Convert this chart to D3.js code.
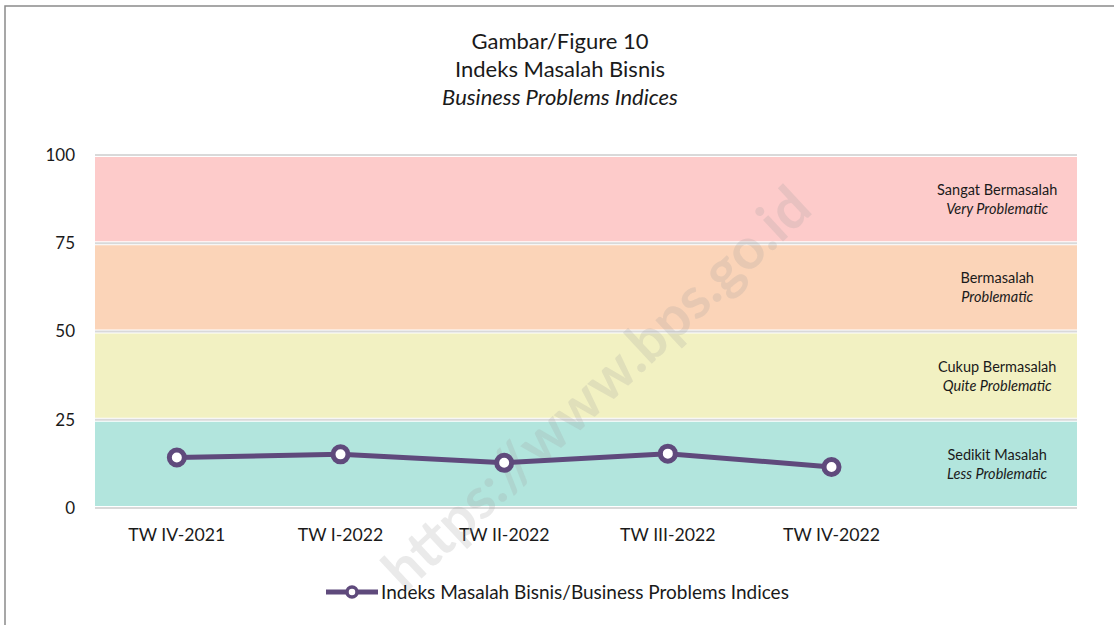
<!DOCTYPE html>
<html>
<head>
<meta charset="utf-8">
<script src="https://cdn.jsdelivr.net/npm/d3@7"></script>
<style>
  body { margin: 0; background: #fff; }
  svg text { font-family: Lato, "Open Sans", sans-serif; fill: #1a1a1a; }
</style>
</head>
<body>
<div id="chart"></div>
<script>
const quarters = ['TW IV-2021', 'TW I-2022', 'TW II-2022', 'TW III-2022', 'TW IV-2022']
const indexValues = [14.3, 15.2, 12.8, 15.4, 11.6]
const yTicks = [0, 25, 50, 75, 100]
const bandFrom = [75, 50, 25, 0]
const bandTo = [100, 75, 50, 25]
const bandColors = ['#fdcbca', '#fbd4b8', '#f2f1c2', '#b2e5dd']
const bandLabelsId = ['Sangat Bermasalah', 'Bermasalah', 'Cukup Bermasalah', 'Sedikit Masalah']
const bandLabelsEn = ['Very Problematic', 'Problematic', 'Quite Problematic', 'Less Problematic']
const titleLines = ['Gambar/Figure 10', 'Indeks Masalah Bisnis', 'Business Problems Indices']
const seriesName = 'Indeks Masalah Bisnis/Business Problems Indices'

const width = 1114
const height = 625
const margin = {top: 155, left: 95, right: 37, bottom: 117}
const lineColor = '#5f4a7c'

const svg = d3.select('#chart').append('svg')
    .attr('width', width)
    .attr('height', height)

// outer frame
svg.append('rect')
    .attr('x', 5).attr('y', 6)
    .attr('width', width + 10).attr('height', height)
    .attr('fill', 'none')
    .attr('stroke', '#8a8a8a')
    .attr('stroke-width', 1.5)

// title
svg.selectAll('.title').data(titleLines).enter()
    .append('text')
    .attr('x', 560)
    .attr('y', (d, i) => 49 + i * 28)
    .attr('text-anchor', 'middle')
    .attr('font-size', 22)
    .attr('font-style', (d, i) => i === 2 ? 'italic' : 'normal')
    .text(d => d)

// slots: five quarters plus one column holding the band labels
const slots = quarters.concat(['__labels'])
const x = d3.scaleBand()
    .domain(slots)
    .range([margin.left, width - margin.right])

const y = d3.scaleLinear()
    .domain([0, 100])
    .range([height - margin.bottom, margin.top])

// gridlines
svg.append('g').selectAll('line').data(yTicks).enter()
    .append('line')
    .attr('x1', margin.left).attr('x2', width - margin.right)
    .attr('y1', d => y(d)).attr('y2', d => y(d))
    .attr('stroke', '#d9d9d9')
    .attr('stroke-width', 2)

// coloured bands
svg.append('g').selectAll('rect').data(bandFrom).enter()
    .append('rect')
    .attr('x', margin.left)
    .attr('width', width - margin.right - margin.left)
    .attr('y', (d, i) => y(bandTo[i]) + 2)
    .attr('height', (d, i) => y(d) - y(bandTo[i]) - 4)
    .attr('fill', (d, i) => bandColors[i])

// band labels
const labelX = x('__labels') + x.bandwidth() / 2 + 2
const bl = svg.append('g').selectAll('g').data(bandFrom).enter().append('g')
bl.append('text')
    .attr('x', labelX)
    .attr('y', (d, i) => (y(d) + y(bandTo[i])) / 2 - 4)
    .attr('text-anchor', 'middle')
    .attr('font-size', 14.5)
    .text((d, i) => bandLabelsId[i])
bl.append('text')
    .attr('x', labelX)
    .attr('y', (d, i) => (y(d) + y(bandTo[i])) / 2 + 15)
    .attr('text-anchor', 'middle')
    .attr('font-size', 14.5)
    .attr('font-style', 'italic')
    .text((d, i) => bandLabelsEn[i])

// axes
const yAxis = svg.append('g')
    .attr('transform', `translate(${margin.left},0)`)
    .call(d3.axisLeft(y).tickValues(yTicks).tickSize(0).tickPadding(20))
yAxis.select('.domain').remove()
yAxis.selectAll('text').attr('font-size', 17).attr('font-family', 'Lato, sans-serif').attr('fill', '#1a1a1a')

const xAxis = svg.append('g')
    .attr('transform', `translate(0,${y(0)})`)
    .call(d3.axisBottom(x).tickValues(quarters).tickSize(0).tickPadding(20))
xAxis.select('.domain').remove()
xAxis.selectAll('text').attr('font-size', 17.7).attr('font-family', 'Lato, sans-serif').attr('fill', '#1a1a1a')

// watermark
svg.append('text')
    .attr('transform', 'translate(600,392) rotate(-43)')
    .attr('text-anchor', 'middle')
    .attr('dominant-baseline', 'middle')
    .attr('font-size', 57)
    .attr('font-weight', 'bold')
    .attr('font-family', 'DejaVu Sans, sans-serif')
    .style('fill', '#a0a0a0')
    .attr('fill-opacity', 0.22)
    .text('https://www.bps.go.id')

// series line
const line = d3.line()
    .x((d, i) => x(quarters[i]) + x.bandwidth() / 2)
    .y(d => y(d))

svg.append('path')
    .datum(indexValues)
    .attr('d', line)
    .attr('fill', 'none')
    .attr('stroke', lineColor)
    .attr('stroke-width', 5)

svg.append('g').selectAll('circle').data(indexValues).enter()
    .append('circle')
    .attr('cx', (d, i) => x(quarters[i]) + x.bandwidth() / 2)
    .attr('cy', d => y(d))
    .attr('r', 7.5)
    .attr('fill', '#fff')
    .attr('stroke', lineColor)
    .attr('stroke-width', 5)

// legend
const legend = svg.append('g').attr('transform', 'translate(0,592)')
legend.append('line')
    .attr('x1', 326).attr('x2', 378)
    .attr('stroke', lineColor).attr('stroke-width', 5)
legend.append('circle')
    .attr('cx', 352).attr('r', 5)
    .attr('fill', '#fff').attr('stroke', lineColor).attr('stroke-width', 3.5)
legend.append('text')
    .attr('x', 381).attr('y', 6.5)
    .attr('font-size', 19)
    .text(seriesName)
</script>
</body>
</html>
